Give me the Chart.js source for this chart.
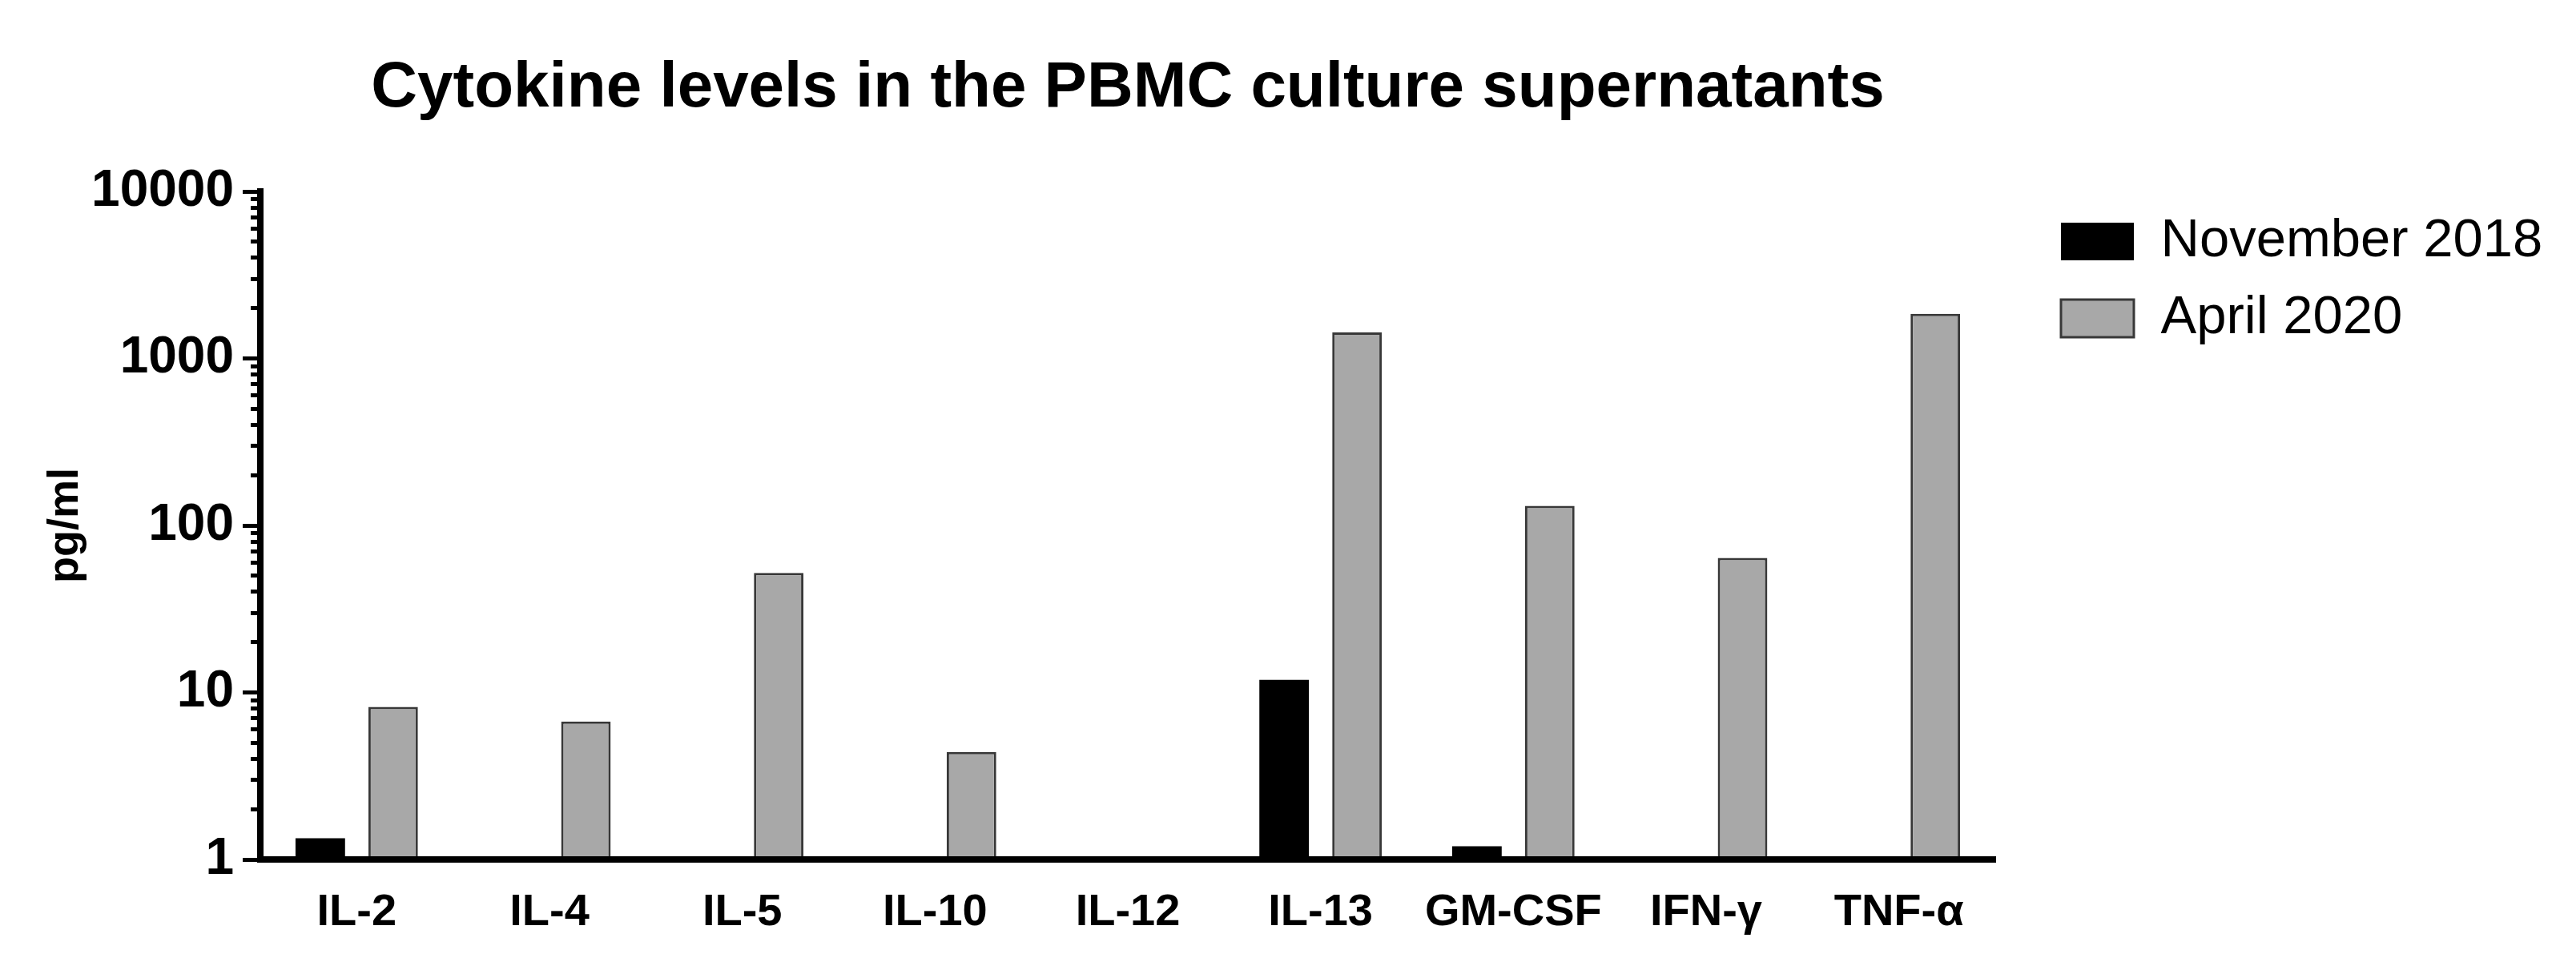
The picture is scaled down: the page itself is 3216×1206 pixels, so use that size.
<!DOCTYPE html>
<html>
<head>
<meta charset="utf-8">
<title>Cytokine levels in the PBMC culture supernatants</title>
<script src="https://cdn.jsdelivr.net/npm/chart.js@4.4.1/dist/chart.umd.min.js"></script>
<style>
  html, body { margin: 0; padding: 0; background: #ffffff; }
  #wrap { width: 3216px; height: 1206px; }
</style>
</head>
<body>
<div id="wrap"><canvas id="CytokineChart" width="3216" height="1206"></canvas></div>
<script>
(function () {
  "use strict";

  // values (pg/ml), null = nothing detected
  const cytokines = ['IL-2', 'IL-4', 'IL-5', 'IL-10', 'IL-12', 'IL-13', 'GM-CSF', 'IFN-γ', 'TNF-α'];
  const nov_2018  = [1.34, null, null, null, null, 11.9, 1.2, null, null];
  const apr_2020  = [8.2, 6.7, 52, 4.4, null, 1430, 131, 64, 1850];
  const y_labels  = [1, 10, 100, 1000, 10000];
  const y_minor   = [2, 3, 4, 5, 6, 7, 8, 9];

  // colors
  const text_black = '#000000';
  const bar_grey   = '#a8a8a8';
  const bar_edge   = '#383838';
  const font_face  = '"Liberation Sans", Arial, Helvetica, sans-serif';

  // plot area edges as measured on the reference
  const canvas_w    = 3216;
  const canvas_h    = 1206;
  const plot_left   = 325;
  const plot_right  = 2491;
  const plot_bottom = 1073;
  const legend_gap  = 53;

  function isDecade(v) {
    const l = Math.log10(v);
    return Math.abs(l - Math.round(l)) < 1e-6;
  }

  // give the legend a fixed width so the plot area ends where it should
  const legendWidth = {
    id: 'legendWidth',
    beforeLayout(chart) {
      const lg = chart.legend;
      if (lg && !lg._fixedWidth) {
        const fit = lg.fit;
        lg.fit = function () {
          fit.call(this);
          this.width = canvas_w - plot_right - legend_gap;
        };
        lg._fixedWidth = true;
      }
    }
  };

  const cts = document.getElementById('CytokineChart').getContext('2d');

  new Chart(cts, {
    type: 'bar',
    data: {
      labels: cytokines,
      datasets: [{
        label: 'November 2018',
        data: nov_2018,
        backgroundColor: text_black,
        borderColor: text_black,
        borderWidth: 0,
        categoryPercentage: 0.756,
        barPercentage: 0.68
      },
      {
        label: 'April 2020',
        data: apr_2020,
        backgroundColor: bar_grey,
        borderColor: bar_edge,
        borderWidth: 3,
        borderSkipped: 'start',
        categoryPercentage: 0.756,
        barPercentage: 0.68
      }]
    },
    plugins: [legendWidth],
    options: {
      responsive: false,
      animation: false,
      devicePixelRatio: 1,
      layout: { padding: 0 },
      plugins: {
        title: {
          display: true,
          text: 'Cytokine levels in the PBMC culture supernatants',
          color: text_black,
          fullSize: false,
          font: { family: font_face, size: 80, weight: 'bold' },
          padding: { top: 63, bottom: 80 }
        },
        legend: {
          display: true,
          position: 'right',
          align: 'start',
          fullSize: false,
          labels: {
            color: text_black,
            boxWidth: 91,
            boxHeight: 47,
            padding: 29,
            font: { family: font_face, size: 67 }
          }
        },
        tooltip: { enabled: false }
      },
      scales: {
        x: {
          type: 'category',
          offset: true,
          grid: { display: false, drawTicks: false },
          border: { display: true, color: text_black, width: 8, z: 1 },
          ticks: {
            color: text_black,
            padding: 33,
            maxRotation: 0,
            autoSkip: false,
            font: { family: font_face, size: 56, weight: 'bold' }
          },
          afterFit: function (scale) { scale.height = canvas_h - plot_bottom; }
        },
        y: {
          type: 'logarithmic',
          min: 1,
          max: 10000,
          border: { display: true, color: text_black, width: 8, z: 1 },
          grid: {
            drawOnChartArea: false,
            drawTicks: true,
            tickLength: 22,
            color: text_black,
            tickColor: text_black,
            tickWidth: 5,
            // minor ticks: only the inner 8px of the tick line is drawn
            tickBorderDash: (c) => (c.tick && !isDecade(c.tick.value)) ? [8, 10] : [],
            tickBorderDashOffset: (c) => (c.tick && !isDecade(c.tick.value)) ? 8 : 0
          },
          ticks: {
            color: text_black,
            padding: 11,
            autoSkip: false,
            font: { family: font_face, size: 64, weight: 'bold' },
            callback: (v) => isDecade(v) ? String(Math.round(v)) : ''
          },
          title: {
            display: true,
            text: 'pg/ml',
            color: text_black,
            font: { family: font_face, size: 54, weight: 'bold' },
            padding: { top: 50, bottom: 0 }
          },
          afterBuildTicks: function (scale) {
            const ticks = [];
            y_labels.forEach(function (d, i) {
              ticks.push({ value: d, major: true });
              if (i < y_labels.length - 1) {
                y_minor.forEach(function (m) { ticks.push({ value: d * m, major: false }); });
              }
            });
            scale.ticks = ticks;
          },
          afterFit: function (scale) { scale.width = plot_left; }
        },
        // empty axis that keeps the legend away from the plot
        gap: {
          type: 'linear',
          position: 'right',
          display: true,
          grid: { display: false, drawTicks: false },
          border: { display: false },
          ticks: { display: false },
          afterFit: function (scale) { scale.width = legend_gap; }
        }
      }
    }
  });

})();
</script>
</body>
</html>
